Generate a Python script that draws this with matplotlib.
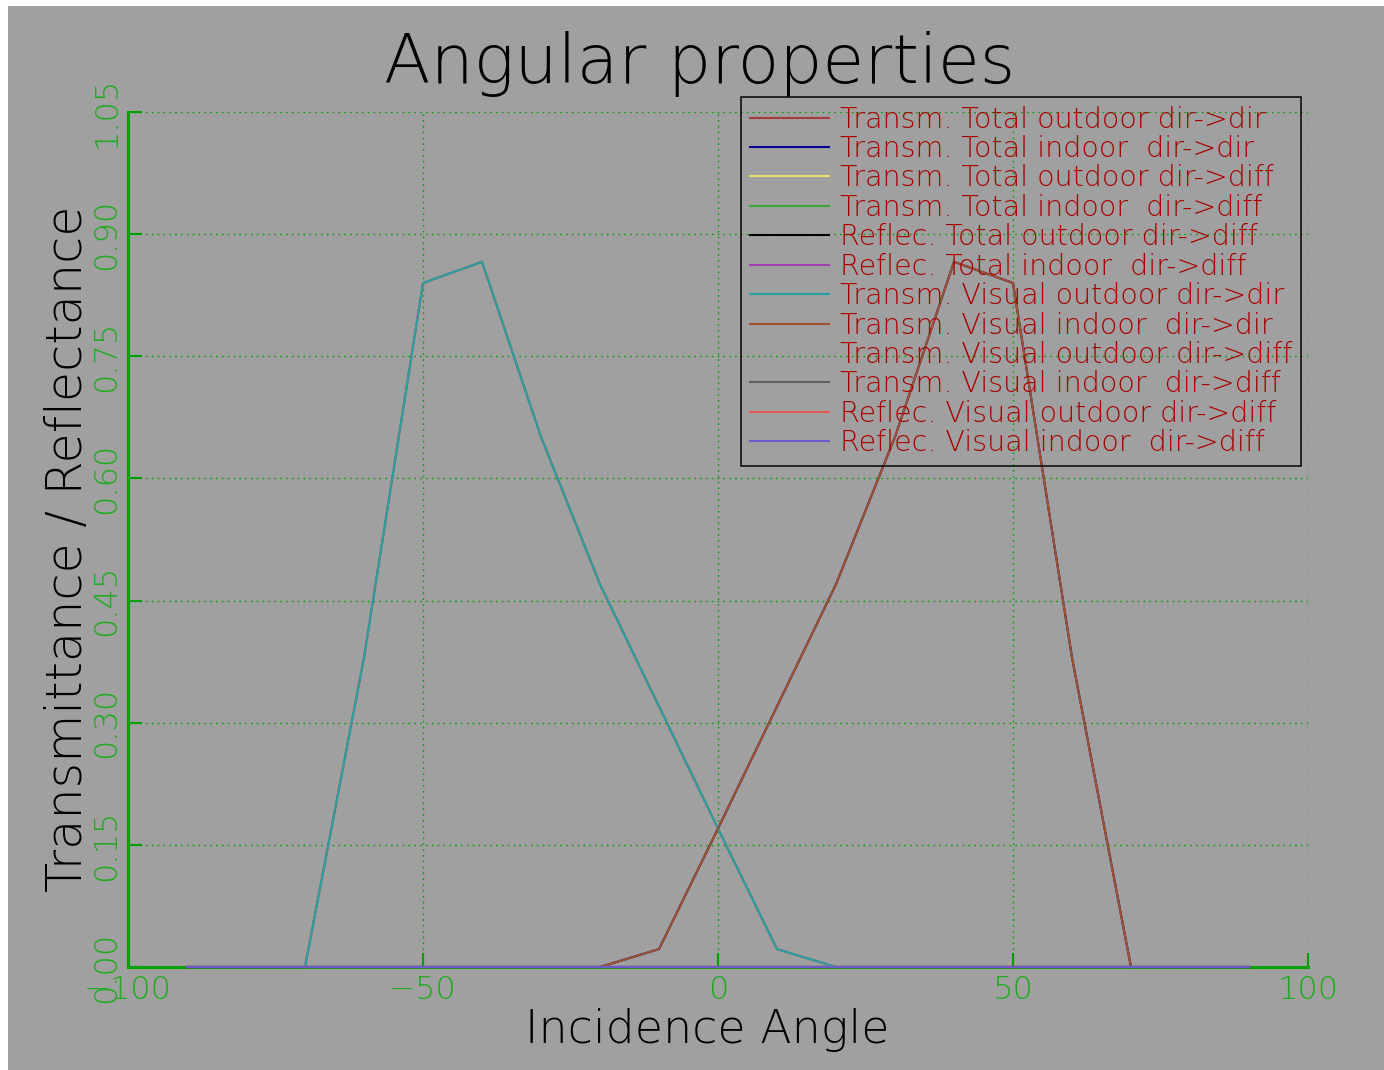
import matplotlib
matplotlib.use("Agg")
import matplotlib.pyplot as plt
from matplotlib.patches import Rectangle

# Incidence angles (degrees)
angles = [-90, -80, -70, -60, -50, -40, -30, -20, -10, 0, 10, 20, 30, 40, 50, 60, 70, 80, 90]

# Direct-direct transmittance curves
outdoor_dir = [0.0, 0.0, 0.0, 0.38, 0.84, 0.866, 0.651, 0.47, 0.32, 0.17, 0.022,
               0.0, 0.0, 0.0, 0.0, 0.0, 0.0, 0.0, 0.0]
indoor_dir = [0.0, 0.0, 0.0, 0.0, 0.0, 0.0, 0.0, 0.0, 0.022, 0.17, 0.32,
              0.47, 0.651, 0.866, 0.84, 0.38, 0.0, 0.0, 0.0]
zeros = [0.0] * len(angles)

labels = [
    "Transm. Total outdoor dir->dir",
    "Transm. Total indoor  dir->dir",
    "Transm. Total outdoor dir->diff",
    "Transm. Total indoor  dir->diff",
    "Reflec. Total outdoor dir->diff",
    "Reflec. Total indoor  dir->diff",
    "Transm. Visual outdoor dir->dir",
    "Transm. Visual indoor  dir->dir",
    "Transm. Visual outdoor dir->diff",
    "Transm. Visual indoor  dir->diff",
    "Reflec. Visual outdoor dir->diff",
    "Reflec. Visual indoor  dir->diff",
]
series = [outdoor_dir, indoor_dir, zeros, zeros, zeros, zeros,
          outdoor_dir, indoor_dir, zeros, zeros, zeros, zeros]
colors = ["#a83c3c", "#00008c", "#e8e066", "#3aa63a", "#000000", "#a040b0",
          "#28a0a4", "#a0522d", "#a0a0a0", "#606060", "#e05a5a", "#6a5acd"]

x_ticks = [-100, -50, 0, 50, 100]
y_ticks = [0.00, 0.15, 0.30, 0.45, 0.60, 0.75, 0.90, 1.05]

BG = "#a0a0a0"
GREEN = "#00a000"
TICKGREEN = "#22aa22"
plt.rcParams["font.family"] = ["DejaVu Sans"]
LIGHT = 200

W, H = 1384, 1070
fig = plt.figure(figsize=(W / 100, H / 100), dpi=100, facecolor="white")
bg = Rectangle((8 / W, 0), 1 - 8 / W, 1 - 6 / H, transform=fig.transFigure,
               facecolor=BG, edgecolor="none", zorder=-10)
fig.patches.append(bg)

ax = fig.add_axes([128 / W, (H - 967) / H, (1308 - 128) / W, (967 - 112) / H])
ax.set_zorder(5)
ax.patch.set_visible(False)

for vals, col, lab in zip(series, colors, labels):
    ax.plot(angles, vals, color=col, lw=1.5, label=lab, solid_joinstyle="miter",
            zorder=3, clip_on=False)

ax.set_xlim(-100, 100)
ax.set_ylim(0, 1.05)
ax.set_xticks(x_ticks)
ax.set_yticks(y_ticks)
ax.set_xticklabels([str(t).replace("-", "\u2212") for t in x_ticks])
ax.set_yticklabels([f"{t:.2f}" for t in y_ticks], rotation=90, va="center")

for side in ("top", "right"):
    ax.spines[side].set_visible(False)
for side in ("left", "bottom"):
    ax.spines[side].set_color(GREEN)
    ax.spines[side].set_linewidth(2.2)
    ax.spines[side].set_zorder(2)

ax.tick_params(direction="in", length=10, width=1.5, color=GREEN,
               labelcolor=TICKGREEN, labelsize=23)
ax.tick_params(axis="x", pad=6)
ax.tick_params(axis="y", pad=5)
for lab in ax.get_xticklabels() + ax.get_yticklabels():
    lab.set_fontweight(LIGHT)

ax.grid(True, color=GREEN, linestyle=(0, (1.2, 3)), linewidth=1.0)
ax.set_axisbelow(True)

leg = ax.legend(loc="upper left", bbox_to_anchor=(741 / W, 1 - 97 / H),
                bbox_transform=fig.transFigure, borderaxespad=0,
                labelspacing=0.05, handlelength=2.8,
                handletextpad=0.38, borderpad=0.3, frameon=True, framealpha=1,
                labelcolor="#a80000", prop={"weight": LIGHT, "size": 20.5})
leg.set_zorder(6)
leg.get_frame().set_facecolor("none")
leg.get_frame().set_edgecolor("#111111")
leg.get_frame().set_linewidth(1.2)
leg.get_frame().set_boxstyle("square", pad=0)

fig.text(700 / W, 1 - 64 / H, "Angular properties", ha="center", va="center",
         fontsize=49, fontweight=LIGHT, color="black")
fig.text(707 / W, 1 - 1030 / H, "Incidence Angle", ha="center", va="center",
         fontsize=33, fontweight=LIGHT, color="black")
fig.text(68 / W, 1 - 549 / H, "Transmittance / Reflectance", ha="center", va="center",
         rotation=90, fontsize=35.5, fontweight=LIGHT, color="black")

fig.savefig("out.png", dpi=100, facecolor="white")
